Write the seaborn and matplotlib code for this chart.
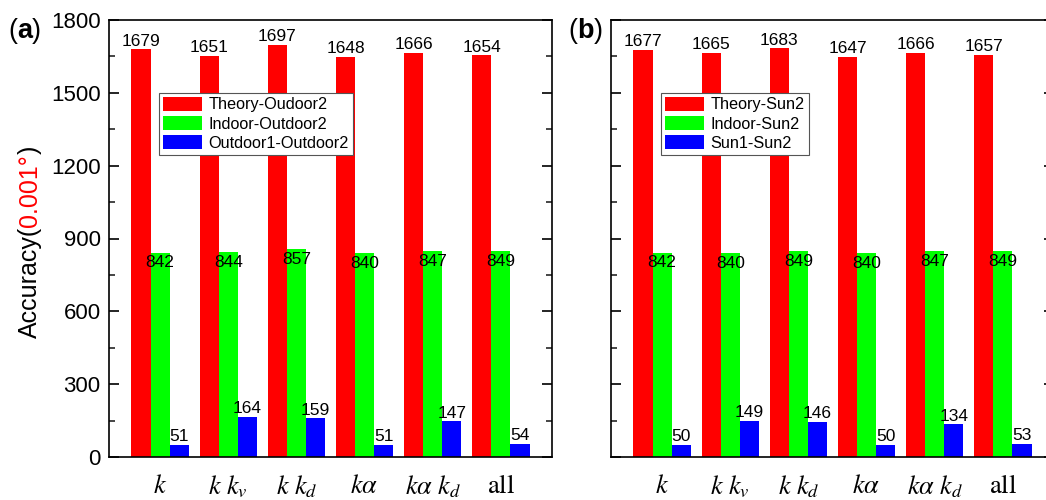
import matplotlib
matplotlib.use("Agg")
import matplotlib.pyplot as plt
from matplotlib.ticker import MultipleLocator
import seaborn as sns
import pandas as pd

# ---- data ----
combos = ["k", "k kv", "k kd", "ka", "ka kd", "all"]
tick_labels = [r"$k$", r"$k\ k_v$", r"$k\ k_d$", r"$k\alpha$", r"$k\alpha\ k_d$", r"$\mathrm{all}$"]

series_a = ["Theory-Oudoor2", "Indoor-Outdoor2", "Outdoor1-Outdoor2"]
theory_a = [1679, 1651, 1697, 1648, 1666, 1654]
indoor_a = [842, 844, 857, 840, 847, 849]
outdoor_a = [51, 164, 159, 51, 147, 54]

series_b = ["Theory-Sun2", "Indoor-Sun2", "Sun1-Sun2"]
theory_b = [1677, 1665, 1683, 1647, 1666, 1657]
indoor_b = [842, 840, 849, 840, 847, 849]
sun_b = [50, 149, 146, 50, 134, 53]

colors = ["#FF0000", "#00FF00", "#0000FF"]

sns.set_theme(style="white")
plt.rcParams["font.family"] = ["Liberation Sans", "DejaVu Sans"]
plt.rcParams["mathtext.fontset"] = "stix"

fig = plt.figure(figsize=(10.46, 5.0), dpi=100)
fig.patch.set_facecolor("white")

W, H = 1046, 500
def axes_rect(left, top, right, bottom):
    return [left / W, 1 - bottom / H, (right - left) / W, (bottom - top) / H]

ax_a = fig.add_axes(axes_rect(109, 20, 552, 457))
ax_b = fig.add_axes(axes_rect(611, 20, 1054, 457))


def make_df(names, vals):
    rows = []
    for name, v in zip(names, vals):
        for c, y in zip(combos, v):
            rows.append({"combo": c, "series": name, "value": y})
    return pd.DataFrame(rows)


def draw_panel(ax, names, vals, show_ylabels):
    df = make_df(names, vals)
    sns.barplot(data=df, x="combo", y="value", hue="series", order=combos,
                hue_order=names, palette=colors, saturation=1, width=0.84,
                linewidth=0, ax=ax, errorbar=None)
    ax.set_xlim(-0.75, 5.75)
    ax.set_ylim(0, 1800)
    ax.yaxis.set_major_locator(MultipleLocator(300))
    ax.yaxis.set_minor_locator(MultipleLocator(150))
    ax.tick_params(axis="y", which="major", direction="in", left=True, right=True,
                   length=7, width=1.2, labelsize=16, labelleft=show_ylabels,
                   colors="black", pad=6)
    ax.tick_params(axis="y", which="minor", direction="in", left=True, right=True,
                   length=4, width=1.2)
    ax.tick_params(axis="x", bottom=False, labelsize=19, pad=6, colors="black")
    ax.set_xticks(range(len(combos)))
    ax.set_xticklabels(tick_labels)
    ax.set_xlabel("")
    ax.set_ylabel("")
    for s in ax.spines.values():
        s.set_visible(True)
        s.set_color("black")
        s.set_linewidth(1.2)

    # value labels
    for i, cont in enumerate(ax.containers):
        for bar in cont:
            h = bar.get_height()
            xc = bar.get_x() + bar.get_width() / 2
            if i == 1:
                ax.annotate(f"{h:.0f}", (xc, h), xytext=(0, -2), textcoords="offset points",
                            ha="center", va="top", fontsize=12.5, color="black")
            else:
                ax.annotate(f"{h:.0f}", (xc, h), xytext=(0, 0.5), textcoords="offset points",
                            ha="center", va="bottom", fontsize=12.5, color="black")

    leg = ax.legend(loc="upper left", bbox_to_anchor=(0.113, 0.834), fontsize=11.7,
                    frameon=True, fancybox=False, framealpha=1, edgecolor="#555555",
                    handlelength=2.4, handleheight=1.0, labelspacing=0.2,
                    handletextpad=0.4, borderpad=0.25, borderaxespad=0)
    leg.get_frame().set_linewidth(0.8)
    for t in leg.get_texts():
        t.set_color("black")


draw_panel(ax_a, series_a, [theory_a, indoor_a, outdoor_a], True)
draw_panel(ax_b, series_b, [theory_b, indoor_b, sun_b], False)

fig.canvas.draw()
renderer = fig.canvas.get_renderer()


def multi_text(x0_px, y_center_px, parts, rotation=0, fontsize=18):
    """Place coloured/weighted text pieces next to each other."""
    objs = []
    for p, c, wgt in parts:
        objs.append(fig.text(0, 0, p, rotation=rotation, fontsize=fontsize, color=c,
                             fontweight=wgt,
                             ha="left" if rotation == 0 else "center",
                             va="center" if rotation == 0 else "bottom"))
    sizes = []
    for t in objs:
        bb = t.get_window_extent(renderer)
        sizes.append(bb.width if rotation == 0 else bb.height)
    total = sum(sizes)
    if rotation == 0:
        pos = x0_px
        for t, s in zip(objs, sizes):
            t.set_position((pos / W, 1 - y_center_px / H))
            pos += s
    else:
        pos = (H - y_center_px) - total / 2
        for t, s in zip(objs, sizes):
            t.set_position((x0_px / W, pos / H))
            pos += s


# panel labels: regular parentheses, bold letter
multi_text(8, 31, [("(", "black", "normal"), ("a", "black", "bold"), (")", "black", "normal")],
           fontsize=19.5)
multi_text(568, 31, [("(", "black", "normal"), ("b", "black", "bold"), (")", "black", "normal")],
           fontsize=19.5)

# multi-colour y label
multi_text(30, 242, [("Accuracy(", "black", "normal"), ("0.001°", "#FF0000", "normal"),
                     (")", "black", "normal")], rotation=90, fontsize=18)

fig.savefig("out.png", dpi=100, facecolor="white")
